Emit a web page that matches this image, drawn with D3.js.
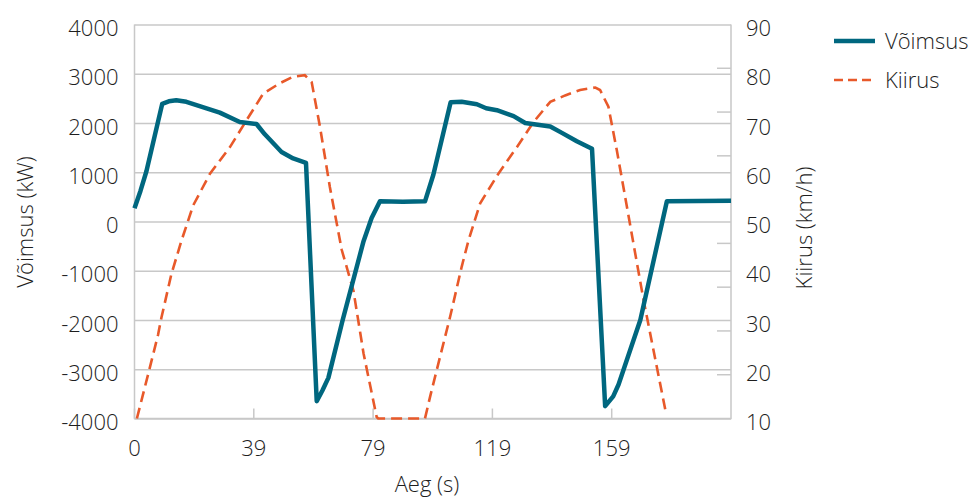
<!doctype html>
<html lang="et">

<head>
  <meta charset="UTF-8">
  <title>Võimsus ja kiirus</title>
  <script type="text/javascript" src="https://cdn.jsdelivr.net/npm/d3@7/dist/d3.min.js"></script>
  <style>
    body {
      margin: 0;
      background: #fff;
    }

    text {
      font-family: "Open Sans", sans-serif;
      font-size: 22px;
      font-weight: 300;
      fill: #1e1e1e;
    }

    .grid line {
      stroke: #c8c8c8;
      stroke-width: 1.3px;
    }

    .frame {
      fill: none;
      stroke: #c8c8c8;
      stroke-width: 1.5px;
    }
  </style>
</head>

<body>

</body>
<script type="text/javascript">
  // aeg (s) ja võimsus (kW)
  var powerTime = [0, 2, 4, 9.3, 11.5, 14, 17.4, 28.6, 35.3, 40.9, 43.7, 49.3, 53.2, 57.5,
    61.1, 63, 65, 69.8, 76.8, 79.5, 82.3, 90, 97.4, 100.2, 106, 109.7, 114.8, 117.9,
    121.5, 127.1, 131, 139.4, 143.3, 148.3, 153.4, 157.8, 160.5, 162.3, 169.6, 178.5, 200];
  var powerValues = [270, 620, 1020, 2390, 2440, 2460, 2430, 2210, 2020, 1980, 1770, 1410, 1280, 1190,
    -3650, -3430, -3175, -2000, -400, 70, 410, 400, 410, 950, 2420, 2430, 2380, 2300,
    2260, 2140, 2000, 1930, 1800, 1630, 1475, -3750, -3550, -3310, -2000, 410, 420];

  // aeg (s) ja kiirus (km/h)
  var speedTime = [0.8, 4.5, 7.9, 9, 12.4, 15.8, 19.7, 25.3, 32, 37.6, 43.2, 48.8, 53.2, 57.1,
    59.4, 62.2, 65.5, 69.5, 73.4, 76.8, 81.2, 81.7, 97.4, 99.1, 101.9, 105.8, 109.7, 112,
    115.9, 122, 128.2, 133.8, 139.4, 144.4, 149.4, 154.5, 156.1, 158.9, 161.7, 165.1, 167.3,
    170.7, 174, 178];
  var speedValues = [10, 18.8, 27, 30.4, 39.4, 46.2, 53.3, 59.7, 65.1, 70.6, 76, 78.1, 79.4, 79.7,
    78.3, 69.2, 57, 44.2, 36, 23.2, 10.3, 10, 10, 14.4, 21.2, 30.6, 40.8, 46.2,
    53.7, 59.7, 65.1, 70.2, 74.3, 75.6, 76.7, 77.2, 76.7, 73.3, 64.5, 53, 45.5,
    34, 23.9, 11.7];

  var xTicks = [0, 40, 80, 120, 160];
  var xTickLabels = ["0", "39", "79", "119", "159"];
  var powerTicks = [-4000, -3000, -2000, -1000, 0, 1000, 2000, 3000, 4000];
  var speedTicks = [10, 20, 30, 40, 50, 60, 70, 80, 90];

  var seriesNames = ["Võimsus", "Kiirus"];
  var colors = ["#00677f", "#e8592a"];

  var margin = {
      top: 24.5,
      right: 249,
      bottom: 79.5,
      left: 134.5
    },
    width = 980 - margin.left - margin.right,
    height = 498 - margin.top - margin.bottom;

  var xScale = d3.scaleLinear()
    .domain([0, 200])
    .range([0, width]);

  var yScale = d3.scaleLinear()
    .domain([-4000, 4000])
    .range([height, 0]);

  var y2Scale = d3.scaleLinear()
    .domain([10, 90])
    .range([height, 0]);

  var svg = d3.select("body").append("svg")
    .attr("width", 980)
    .attr("height", 498)
    .append("g")
    .attr("transform", "translate(" + margin.left + "," + margin.top + ")");

  // ruudustik
  svg.append("g")
    .attr("class", "grid")
    .call(d3.axisLeft(yScale).tickValues(powerTicks).tickSize(-width).tickFormat(""))
    .call(function(g) {
      g.select(".domain").remove();
    });

  svg.append("path")
    .attr("class", "frame")
    .attr("d", "M0,0V" + height + "H" + width + "V0");

  // x-telje kriipsud (sissepoole)
  svg.append("g")
    .selectAll("line")
    .data(xTicks)
    .enter().append("line")
    .attr("x1", function(d) { return xScale(d); })
    .attr("x2", function(d) { return xScale(d); })
    .attr("y1", height)
    .attr("y2", height - 10)
    .style("stroke", "#c8c8c8")
    .style("stroke-width", 1.5);

  svg.append("g")
    .selectAll("text")
    .data(xTicks)
    .enter().append("text")
    .attr("x", function(d) { return xScale(d); })
    .attr("y", height + 37)
    .attr("text-anchor", "middle")
    .text(function(d, i) { return xTickLabels[i]; });

  // parema telje kriipsud (9 vahemikku, nagu originaalis)
  var minorCount = 9;
  svg.append("g")
    .selectAll("line")
    .data(d3.range(1, minorCount))
    .enter().append("line")
    .attr("x1", width - 14)
    .attr("x2", width)
    .attr("y1", function(k) { return y2Scale(10 + k * 80 / minorCount); })
    .attr("y2", function(k) { return y2Scale(10 + k * 80 / minorCount); })
    .style("stroke", "#c8c8c8")
    .style("stroke-width", 1.5);

  svg.append("g")
    .selectAll("text")
    .data(powerTicks)
    .enter().append("text")
    .attr("x", -16)
    .attr("y", function(d) { return yScale(d) + 11.5; })
    .attr("text-anchor", "end")
    .text(function(d) { return d; });

  svg.append("g")
    .selectAll("text")
    .data(speedTicks)
    .enter().append("text")
    .attr("x", width + 15)
    .attr("y", function(d) { return y2Scale(d) + 11.5; })
    .text(function(d) { return d; });

  // telgede pealkirjad
  svg.append("text")
    .attr("transform", "translate(" + (33 - margin.left) + "," + (222 - margin.top) + ") rotate(-90)")
    .attr("text-anchor", "middle")
    .text("Võimsus (kW)");

  svg.append("text")
    .attr("transform", "translate(" + (812 - margin.left) + "," + (228 - margin.top) + ") rotate(-90)")
    .attr("text-anchor", "middle")
    .text("Kiirus (km/h)");

  svg.append("text")
    .attr("x", 427 - margin.left)
    .attr("y", height + 73)
    .attr("text-anchor", "middle")
    .text("Aeg (s)");

  // jooned
  var powerLine = d3.line()
    .x(function(d, i) { return xScale(powerTime[i]); })
    .y(function(d) { return yScale(d); });

  var speedLine = d3.line()
    .x(function(d, i) { return xScale(speedTime[i]); })
    .y(function(d) { return y2Scale(d); });

  svg.append("path")
    .datum(speedValues)
    .attr("d", speedLine)
    .style("fill", "none")
    .style("stroke", colors[1])
    .style("stroke-width", 2.6)
    .style("stroke-dasharray", "11,6");

  svg.append("path")
    .datum(powerValues)
    .attr("d", powerLine)
    .style("fill", "none")
    .style("stroke", colors[0])
    .style("stroke-width", 4.5)
    .style("stroke-linejoin", "round");

  // legend
  var legend = d3.select("svg").append("g")
    .selectAll("g")
    .data(seriesNames)
    .enter().append("g")
    .attr("transform", function(d, i) { return "translate(834," + (41 + i * 39) + ")"; });

  legend.append("line")
    .attr("x1", 0)
    .attr("x2", 41)
    .style("stroke", function(d, i) { return colors[i]; })
    .style("stroke-width", function(d, i) { return i === 0 ? 4.5 : 2.6; })
    .style("stroke-dasharray", function(d, i) { return i === 0 ? null : "9,5"; });

  legend.append("text")
    .attr("x", 51)
    .attr("y", 7.5)
    .text(function(d) { return d; });
</script>

</html>
